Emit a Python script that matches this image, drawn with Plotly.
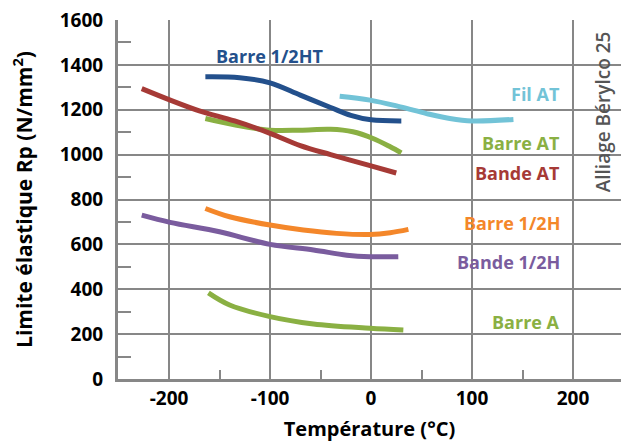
import plotly.graph_objects as go

# ---- data ----
barre_12ht_x = [-164, -130, -100, -70, -40, -20, 0, 30]
barre_12ht_y = [1347, 1343, 1320, 1265, 1210, 1175, 1155, 1150]

fil_at_x = [-31, -1, 29, 55, 78, 100, 141]
fil_at_y = [1260, 1243, 1213, 1183, 1161, 1150, 1157]

barre_at_x = [-164, -133, -100, -70, -40, -18, 2, 19, 30]
barre_at_y = [1161, 1131, 1109, 1109, 1113, 1102, 1072, 1035, 1008]

bande_at_x = [-227, -200, -170, -135, -100, -70, -40, 0, 25]
bande_at_y = [1294, 1245, 1195, 1150, 1095, 1040, 1000, 950, 918]

barre_12h_x = [-164, -140, -100, -67, -34, -1, 19, 37]
barre_12h_y = [760, 723, 686, 664, 649, 644, 652, 667]

bande_12h_x = [-227, -199, -150, -100, -57, -24, -1, 27]
bande_12h_y = [730, 698, 656, 600, 575, 552, 545, 545]

barre_a_x = [-161, -140, -100, -57, -1, 32]
barre_a_y = [384, 330, 278, 245, 226, 218]

series = [
    ("Barre 1/2HT", barre_12ht_x, barre_12ht_y, "#23508C"),
    ("Fil AT", fil_at_x, fil_at_y, "#72C3D7"),
    ("Barre AT", barre_at_x, barre_at_y, "#8AB043"),
    ("Bande AT", bande_at_x, bande_at_y, "#A63A36"),
    ("Barre 1/2H", barre_12h_x, barre_12h_y, "#F4872A"),
    ("Bande 1/2H", bande_12h_x, bande_12h_y, "#7A5C9E"),
    ("Barre A", barre_a_x, barre_a_y, "#8AB043"),
]

# label positions (data coordinates)
label_x = [-101, 189, 189, 189, 189, 189, 189]
label_y = [1439, 1272, 1053, 920, 695, 522, 255]
label_anchor = ["center", "right", "right", "right", "right", "right", "right"]

y_ticks = [0, 200, 400, 600, 800, 1000, 1200, 1400, 1600]
x_ticks = [-200, -100, 0, 100, 200]

FONT = "'Open Sans', 'Liberation Sans', sans-serif"
GRID = "#878787"

fig = go.Figure()
for name, xs, ys, col in series:
    fig.add_trace(go.Scatter(x=xs, y=ys, mode="lines", name=name,
                             line=dict(color=col, width=5, shape="spline", smoothing=1.0),
                             showlegend=False, hoverinfo="skip"))

for (name, xs, ys, col), lx, ly, anc in zip(series, label_x, label_y, label_anchor):
    fig.add_annotation(x=lx, y=ly, text="<b>" + name + "</b>", showarrow=False,
                       xanchor=anc, yanchor="middle",
                       font=dict(family=FONT, size=18, color=col))

fig.add_annotation(x=230, y=1190, text="Alliage Bérylco 25", showarrow=False, textangle=-90,
                   xanchor="center", yanchor="middle",
                   font=dict(family=FONT, size=19, color="#555555", weight=600))

fig.update_layout(
    width=621, height=442,
    margin=dict(l=118, r=0, t=20, b=63),
    paper_bgcolor="white", plot_bgcolor="white",
    font=dict(family=FONT, color="black"),
)
fig.update_xaxes(
    range=[-250.5, 247.5], tickvals=x_ticks,
    ticktext=["<b>%d</b>" % v for v in x_ticks], ticks="",
    showgrid=True, gridcolor=GRID, gridwidth=2,
    showline=True, linecolor=GRID, linewidth=3,
    zeroline=False,
    tickfont=dict(family=FONT, size=19, color="black"),
    minor=dict(tickvals=[-150, -50, 50, 150], ticks="inside", ticklen=9, tickwidth=2,
               tickcolor=GRID, showgrid=False),
    title=dict(text="<b>Température (°C)</b>", standoff=15,
               font=dict(family=FONT, size=20, color="black")),
)
fig.update_yaxes(
    range=[0, 1600], tickvals=y_ticks,
    ticktext=["<b>%d</b>" % v for v in y_ticks], ticks="",
    showgrid=True, gridcolor=GRID, gridwidth=2,
    showline=True, linecolor=GRID, linewidth=3,
    zeroline=False, ticklabelstandoff=8,
    tickfont=dict(family=FONT, size=19, color="black"),
    minor=dict(tickvals=[100, 300, 500, 700, 900, 1100, 1300, 1500], ticks="inside",
               ticklen=13, tickwidth=2, tickcolor=GRID, showgrid=False),
    title=dict(text="<b>Limite élastique Rp (N/mm<sup>2</sup>)</b>", standoff=22,
               font=dict(family=FONT, size=21, color="black")),
)

fig.write_html("out.html")
